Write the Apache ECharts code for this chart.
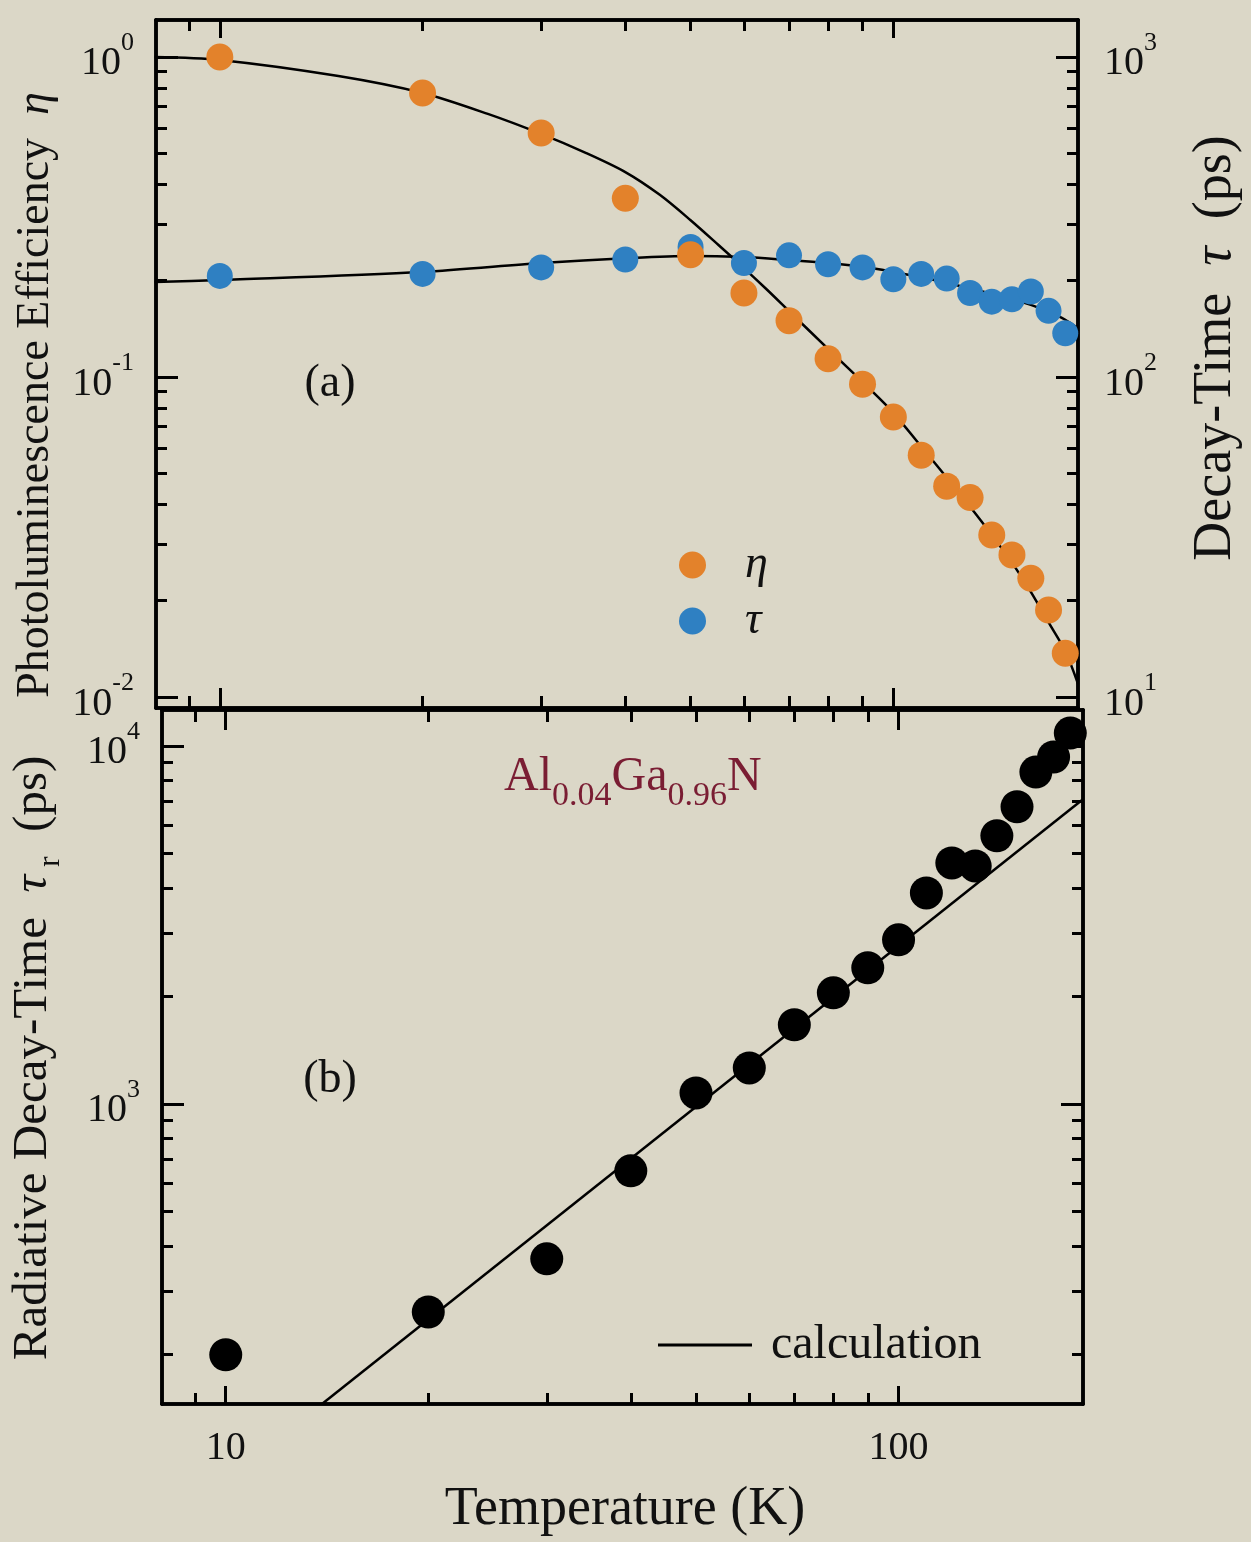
<!DOCTYPE html>
<html>
<head>
<meta charset="utf-8">
<script src="https://cdn.jsdelivr.net/npm/echarts@6/dist/echarts.min.js"></script>
<style>
html, body { margin: 0; padding: 0; background: #dbd7c7; }
#chart { width: 1251px; height: 1542px; }
</style>
</head>
<body>
<div id="chart"></div>
<script>
// measured temperatures (K)
var temps = [10, 20, 30, 40, 50, 60, 70, 80, 90, 100, 110, 120, 130, 140, 150, 160, 170, 180];
// (a) PL efficiency eta and decay time tau (ps)
var eta = [1.0, 0.772, 0.579, 0.362, 0.241, 0.183, 0.150, 0.114, 0.095, 0.075, 0.057, 0.0456, 0.042, 0.0321, 0.0278, 0.0235, 0.0187, 0.0137];
var tau = [207, 210, 220, 233, 255, 227, 240, 225, 220, 202, 210, 203, 183, 172, 175, 185, 161, 137];
// (b) radiative decay time (ps)
var tauR = [199, 262, 369, 650, 1073, 1260, 1663, 2042, 2400, 2872, 3884, 4710, 4620, 5610, 6760, 8450, 9310, 10860];

// fitted curves
var etaFitT = [8, 10, 15, 20, 25, 30, 35, 40, 45, 50, 55, 60, 65, 70, 80, 90, 100, 110, 120, 130, 140, 150, 160, 170, 180, 188];
var etaFit = [1.0, 0.979, 0.872, 0.772, 0.664, 0.575, 0.501, 0.437, 0.371, 0.309, 0.2585, 0.219, 0.187, 0.1607, 0.1224, 0.0965, 0.0773, 0.0606, 0.0485, 0.0393, 0.0321, 0.0263, 0.0213, 0.0171, 0.0139, 0.0110];
var tauFitT = [8, 10, 20, 30, 40, 50, 60, 70, 80, 90, 100, 110, 120, 130, 140, 150, 160, 170, 180, 188];
var tauFit = [198, 201, 213, 227, 235, 239, 237, 232, 227, 221, 213, 205, 197, 189, 182, 175, 168, 160, 151, 142];
var calcT = [13.9, 188];
var calcTauR = [145, 7100];

// tick positions
var tMajor = [10, 100];
var tMinor = [9, 20, 30, 40, 50, 60, 70, 80, 90];
var etaMajor = [0.01, 0.1, 1];
var etaMinor = [0.02, 0.03, 0.04, 0.05, 0.06, 0.07, 0.08, 0.09, 0.2, 0.3, 0.4, 0.5, 0.6, 0.7, 0.8, 0.9];
var tauMajor = [10, 100, 1000];
var tauMinor = [20, 30, 40, 50, 60, 70, 80, 90, 200, 300, 400, 500, 600, 700, 800, 900];
var tauRMajor = [1000, 10000];
var tauRMinor = [200, 300, 400, 500, 600, 700, 800, 900, 2000, 3000, 4000, 5000, 6000, 7000, 8000, 9000];

var FONT = '"Liberation Serif", "Times New Roman", serif';
var INK = '#111';
var ORANGE = '#e3822b';
var BLUE = '#2f80c2';

function pair(xs, ys) {
    return xs.map(function (x, i) { return [x, ys[i]]; });
}

function powLabel(v) {
    var e = Math.round(Math.log10(v));
    return '{b|10}{s|' + e + '}';
}
var powRich = {
    b: { fontSize: 40, fontFamily: FONT, color: INK, padding: [14, 0, 0, 0], verticalAlign: 'bottom' },
    s: { fontSize: 26, fontFamily: FONT, color: INK, verticalAlign: 'top' }
};

function axis(grid, pos, range, ticks, len, labels) {
    var a = {
        type: 'log', logBase: 10, gridIndex: grid, position: pos,
        min: range[0], max: range[1],
        axisLine: { show: true, onZero: false, lineStyle: { color: '#000', width: 3.5 } },
        axisTick: { show: true, inside: true, length: len, customValues: ticks, lineStyle: { color: '#000', width: 3 } },
        axisLabel: { show: false },
        splitLine: { show: false }
    };
    if (labels) a.axisLabel = labels;
    return a;
}

var T_RANGE = [8.04, 188];
var ETA_RANGE = [0.00924, 1.305];
var TAU_RANGE = [9.24, 1305];
var TAUR_RANGE = [145, 12600];

var xAxes = [
    axis(0, 'bottom', T_RANGE, tMajor, 20),
    axis(0, 'bottom', T_RANGE, tMinor, 12),
    axis(0, 'top', T_RANGE, tMajor, 18),
    axis(0, 'top', T_RANGE, tMinor, 11),
    axis(1, 'bottom', T_RANGE, tMajor, 18, {
        show: true, customValues: tMajor, margin: 24,
        fontSize: 40, fontFamily: FONT, color: INK
    }),
    axis(1, 'bottom', T_RANGE, tMinor, 11),
    axis(1, 'top', T_RANGE, tMajor, 20),
    axis(1, 'top', T_RANGE, tMinor, 12)
];
var yAxes = [
    axis(0, 'left', ETA_RANGE, etaMajor, 22, {
        show: true, customValues: etaMajor, margin: 22, formatter: powLabel, rich: powRich
    }),
    axis(0, 'left', ETA_RANGE, etaMinor, 11),
    axis(0, 'right', TAU_RANGE, tauMajor, 22, {
        show: true, customValues: tauMajor, margin: 26, formatter: powLabel, rich: powRich
    }),
    axis(0, 'right', TAU_RANGE, tauMinor, 11),
    axis(1, 'left', TAUR_RANGE, tauRMajor, 22, {
        show: true, customValues: tauRMajor, margin: 22, formatter: powLabel, rich: powRich
    }),
    axis(1, 'left', TAUR_RANGE, tauRMinor, 11),
    axis(1, 'right', TAUR_RANGE, tauRMajor, 22),
    axis(1, 'right', TAUR_RANGE, tauRMinor, 11)
];

var chart = echarts.init(document.getElementById('chart'));
chart.setOption({
    backgroundColor: '#dbd7c7',
    animation: false,
    grid: [
        { left: 156, top: 20, width: 922, height: 688 },
        { left: 162, top: 710, width: 921, height: 694 }
    ],
    xAxis: xAxes,
    yAxis: yAxes,
    legend: [{
        data: [{ name: 'η', icon: 'circle' }, { name: 'τ', icon: 'circle' }],
        orient: 'vertical', left: 674, top: 537,
        itemWidth: 27, itemHeight: 27, itemGap: 10, selectedMode: false,
        textStyle: { fontFamily: FONT, fontStyle: 'italic', fontSize: 46, color: INK, padding: [0, 0, 0, 34] }
    }, {
        data: [{ name: 'calculation', icon: 'rect', itemStyle: { color: '#000' } }],
        left: 653, top: 1316, itemWidth: 94, itemHeight: 3, selectedMode: false,
        textStyle: { fontFamily: FONT, fontSize: 48, color: INK, padding: [0, 0, 0, 14] }
    }],
    graphic: [
        { type: 'text', x: 36, y: 395, rotation: Math.PI / 2,
          style: { text: '{n|Photoluminescence Efficiency  }{i|η}', align: 'center', verticalAlign: 'middle', fill: INK,
            rich: { n: { fontSize: 46, fontFamily: FONT, fill: INK }, i: { fontSize: 46, fontFamily: FONT, fontStyle: 'italic', fill: INK } } } },
        { type: 'text', x: 1216, y: 348, rotation: Math.PI / 2,
          style: { text: '{n|Decay-Time  }{i|τ}{n|  (ps)}', align: 'center', verticalAlign: 'middle', fill: INK,
            rich: { n: { fontSize: 54, fontFamily: FONT, fill: INK }, i: { fontSize: 54, fontFamily: FONT, fontStyle: 'italic', fill: INK } } } },
        { type: 'text', x: 38, y: 1058, rotation: Math.PI / 2,
          style: { text: '{n|Radiative Decay-Time  }{i|τ}{r| r}{n|  (ps)}', align: 'center', verticalAlign: 'middle', fill: INK,
            rich: {
                n: { fontSize: 49, fontFamily: FONT, fill: INK, verticalAlign: 'top' },
                i: { fontSize: 49, fontFamily: FONT, fontStyle: 'italic', fill: INK, verticalAlign: 'top' },
                r: { fontSize: 32, fontFamily: FONT, fill: INK, verticalAlign: 'top', padding: [26, 0, 0, 0] }
            } } },
        { type: 'text', x: 625, y: 1510,
          style: { text: 'Temperature (K)', align: 'center', verticalAlign: 'middle', fill: INK, fontSize: 54, fontFamily: FONT } },
        { type: 'text', x: 330, y: 384,
          style: { text: '(a)', align: 'center', verticalAlign: 'middle', fill: INK, fontSize: 46, fontFamily: FONT } },
        { type: 'text', x: 330, y: 1080,
          style: { text: '(b)', align: 'center', verticalAlign: 'middle', fill: INK, fontSize: 46, fontFamily: FONT } },
        { type: 'text', x: 504, y: 783,
          style: { text: '{b|Al}{s|0.04}{b|Ga}{s|0.96}{b|N}', align: 'left', verticalAlign: 'middle', fill: '#7a1d33',
            rich: {
                b: { fontSize: 48, fontFamily: FONT, fill: '#7a1d33', verticalAlign: 'top' },
                s: { fontSize: 34, fontFamily: FONT, fill: '#7a1d33', verticalAlign: 'top', padding: [26, 0, 0, 0] }
            } } }
    ],
    series: [
        { name: 'η fit', type: 'line', xAxisIndex: 0, yAxisIndex: 0, data: pair(etaFitT, etaFit),
          smooth: 0.3, symbol: 'none', lineStyle: { color: '#000', width: 2.5 }, z: 2 },
        { name: 'τ fit', type: 'line', xAxisIndex: 0, yAxisIndex: 2, data: pair(tauFitT, tauFit),
          smooth: 0.3, symbol: 'none', lineStyle: { color: '#000', width: 2.5 }, z: 2 },
        { name: 'τ', type: 'scatter', xAxisIndex: 0, yAxisIndex: 2, data: pair(temps, tau),
          symbolSize: 26, itemStyle: { color: BLUE, opacity: 1 }, z: 3 },
        { name: 'η', type: 'scatter', xAxisIndex: 0, yAxisIndex: 0, data: pair(temps, eta),
          symbolSize: 27, itemStyle: { color: ORANGE, opacity: 1 }, z: 3 },
        { name: 'calculation', type: 'line', xAxisIndex: 4, yAxisIndex: 4, data: pair(calcT, calcTauR),
          symbol: 'none', itemStyle: { color: '#000' }, lineStyle: { color: '#000', width: 2.5 }, z: 2 },
        { name: 'τr', type: 'scatter', xAxisIndex: 4, yAxisIndex: 4, data: pair(temps, tauR),
          symbolSize: 33, itemStyle: { color: '#000', opacity: 1 }, z: 3 }
    ]
});
</script>
</body>
</html>
